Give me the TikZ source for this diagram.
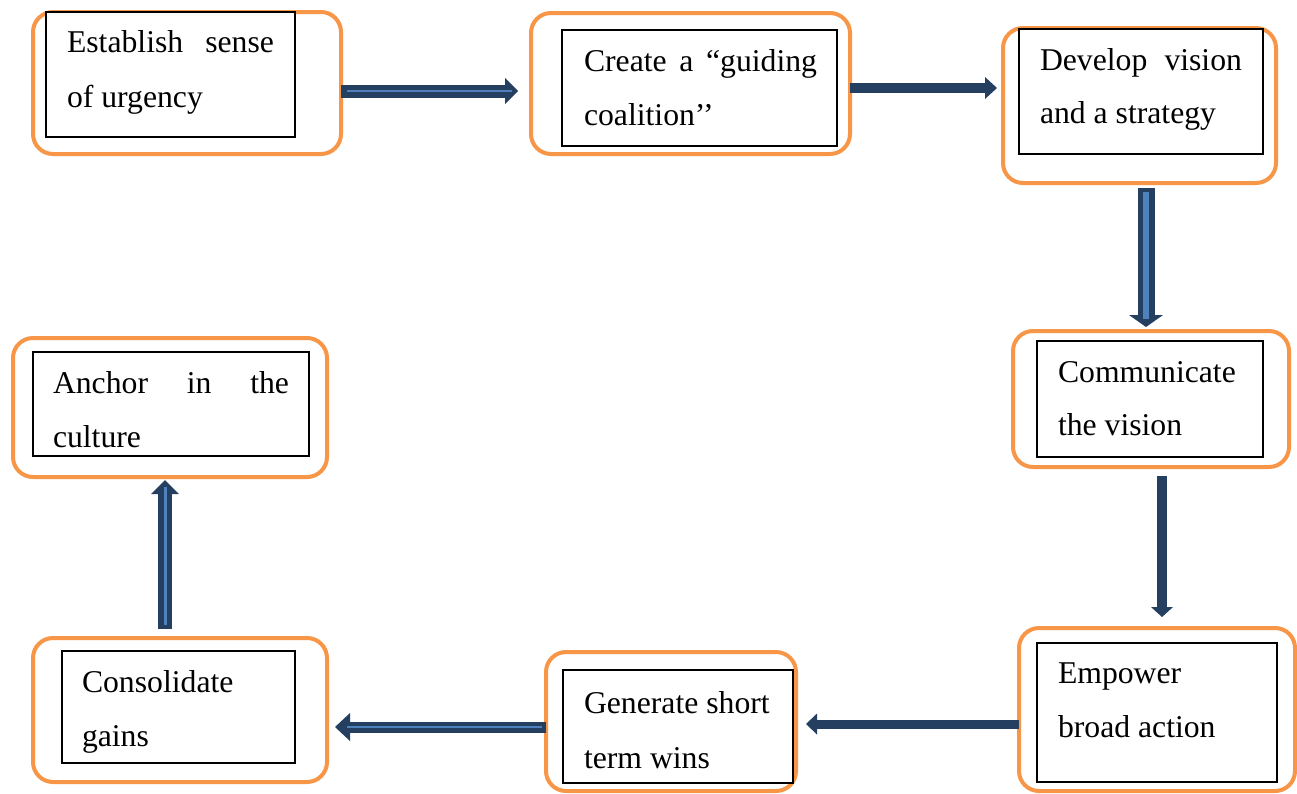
\documentclass[tikz,border=0pt]{standalone}
\usepackage{fontspec}
\setmainfont{Liberation Serif}
\usetikzlibrary{arrows.meta}
\definecolor{navy}{HTML}{243F60}
\definecolor{orng}{HTML}{F79646}
\definecolor{lblue}{HTML}{4F81BD}
\tikzset{
  obox/.style={draw=orng, line width=4pt, rounded corners=20pt, inner sep=0pt, outer sep=0pt},
  ibox/.style={draw=black, line width=1.6pt, inner sep=0pt, outer sep=0pt, fill=white},
  txt/.style={anchor=base west, inner sep=0pt, outer sep=0pt, font=\fontsize{31.7}{38}\selectfont},
  conn/.style={draw=navy, line width=#1},
  glow/.style={draw=lblue, line width=#1}
}
\begin{document}
\begin{tikzpicture}[x=1pt,y=-1pt]
\useasboundingbox[fill=white] (0,0) rectangle (1297,793);
% orange frames
\node[obox, minimum width=308pt, minimum height=142pt] (o1) at (187,83) {};
\node[obox, minimum width=319pt, minimum height=141pt] (o2) at (690.5,83.5) {};
\node[obox, minimum width=273pt, minimum height=155pt] (o3) at (1139.5,105.5) {};
\node[obox, minimum width=276pt, minimum height=136pt] (o4) at (1151,399) {};
\node[obox, minimum width=276pt, minimum height=163pt] (o5) at (1157,709.5) {};
\node[obox, minimum width=250pt, minimum height=139pt] (o6) at (671,721.5) {};
\node[obox, minimum width=294pt, minimum height=144pt] (o7) at (180,710) {};
\node[obox, minimum width=314pt, minimum height=139pt] (o8) at (170,407.5) {};
% inner boxes
\node[ibox, minimum width=249pt, minimum height=125pt] (i1) at (170.5,74.5) {};
\node[ibox, minimum width=275pt, minimum height=116pt] (i2) at (699.5,88) {};
\node[ibox, minimum width=244pt, minimum height=125pt] (i3) at (1141,91.5) {};
\node[ibox, minimum width=226pt, minimum height=116pt] (i4) at (1150,399) {};
\node[ibox, minimum width=240pt, minimum height=139pt] (i5) at (1157,712.5) {};
\node[ibox, minimum width=230pt, minimum height=113pt] (i6) at (678,726.5) {};
\node[ibox, minimum width=233pt, minimum height=112pt] (i7) at (178.5,707) {};
\node[ibox, minimum width=276pt, minimum height=104pt] (i8) at (171,404) {};
% texts
\node[txt] (t1a) at (67,52) {\hbox to 207pt{Establish\hfill sense}};
\node[txt] (t1b) at (67,107) {of urgency};
\node[txt] (t2a) at (584,71) {\hbox to 233pt{Create\hfill a\hfill “guiding}};
\node[txt] (t2b) at (584,125) {coalition’’};
\node[txt] (t3a) at (1040,70) {\hbox to 202pt{Develop\hfill vision}};
\node[txt] (t3b) at (1040,123) {and a strategy};
\node[txt] (t4a) at (1058,382) {Communicate};
\node[txt] (t4b) at (1058,435) {the vision};
\node[txt] (t5a) at (1058,683) {Empower};
\node[txt] (t5b) at (1058,737) {broad action};
\node[txt] (t6a) at (584,713) {Generate short};
\node[txt] (t6b) at (584,768) {term wins};
\node[txt] (t7a) at (82,692) {Consolidate};
\node[txt] (t7b) at (82,746) {gains};
\node[txt] (t8a) at (53,393) {\hbox to 236pt{Anchor\hfill in\hfill the}};
\node[txt] (t8b) at (53,447) {culture};
% connectors
% 1 -> 2
\draw[conn=13pt, -{Triangle[length=13pt,width=26pt,line width=0pt]}, shorten >=13pt]
  (o1.east |- 0,91) -- (o2.west |- 0,91);
\draw[glow=2pt, shorten <=6pt, shorten >=19pt] (o1.east |- 0,91) -- (o2.west |- 0,91);
% 2 -> 3
\draw[conn=10pt, -{Triangle[length=12pt,width=22pt,line width=0pt]}, shorten >=6pt]
  (o2.east |- 0,88) -- (o3.west |- 0,88);
% 3 -> 4
\draw[conn=17pt, -{Triangle[length=12pt,width=34pt,line width=0pt]}, shorten <=5pt, shorten >=4pt]
  (o3.south -| 1146,0) -- (o4.north -| 1146,0);
\draw[glow=6pt, shorten <=9pt, shorten >=12pt] (o3.south -| 1146,0) -- (o4.north -| 1146,0);
% 4 -> 5
\draw[conn=10pt, -{Triangle[length=10pt,width=22pt,line width=0pt]}, shorten <=9pt, shorten >=11pt]
  (o4.south -| 1162,0) -- (o5.north -| 1162,0);
% 5 -> 6
\draw[conn=9pt, -{Triangle[length=11pt,width=21pt,line width=0pt]}, shorten >=10pt]
  (o5.west |- 0,724) -- (o6.east |- 0,724);
% 6 -> 7
\draw[conn=11pt, -{Triangle[length=15pt,width=28pt,line width=0pt]}, shorten >=8pt]
  (o6.west |- 0,727) -- (o7.east |- 0,727);
\draw[glow=2pt, shorten <=4pt, shorten >=20pt] (o6.west |- 0,727) -- (o7.east |- 0,727);
% 7 -> 8
\draw[conn=14pt, -{Triangle[length=14pt,width=28pt,line width=0pt]}, shorten <=9pt, shorten >=3pt]
  (o7.north -| 165,0) -- (o8.south -| 165,0);
\draw[glow=3pt, shorten <=13pt, shorten >=10pt] (o7.north -| 165,0) -- (o8.south -| 165,0);
\end{tikzpicture}
\end{document}
